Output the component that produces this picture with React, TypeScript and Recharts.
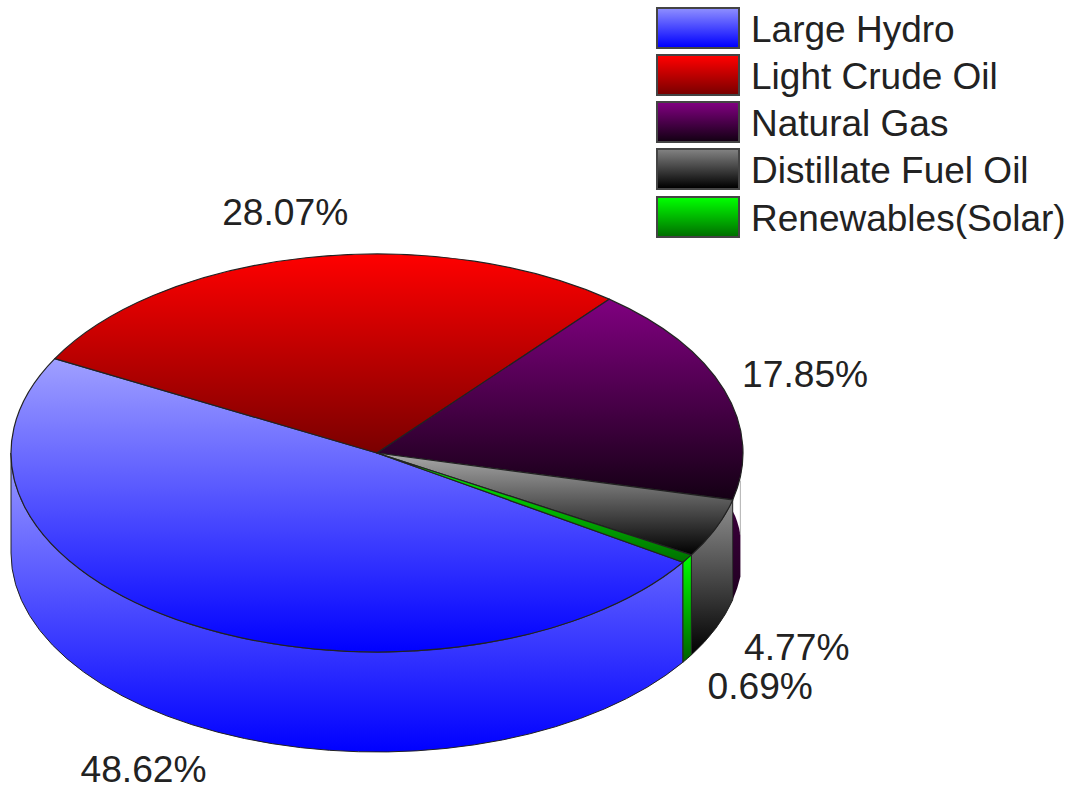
import { Cell, Legend, Pie, PieChart } from "recharts";

const sources = ["Large Hydro", "Light Crude Oil", "Natural Gas", "Distillate Fuel Oil", "Renewables(Solar)"];
const shares = [48.62, 28.07, 17.85, 4.77, 0.69];

// top and bottom stop of each slice's face
const faceStops = [
  ["#a0a0ff", "#0000ff"],
  ["#ff0000", "#7a0000"],
  ["#800080", "#140014"],
  ["#aaaaaa", "#000000"],
  ["#00ff00", "#007000"],
];
const wallStops = [
  ["#9a9aff", "#0000ff"],
  ["#ff0000", "#7a0000"],
  ["#3a003a", "#200020"],
  ["#909090", "#000000"],
  ["#00ff00", "#006000"],
];
const swatchStops = [
  ["#8c8cff", "#0000ff"],
  ["#ff0000", "#7a0000"],
  ["#800080", "#140014"],
  ["#808080", "#000000"],
  ["#00ff00", "#007000"],
];
// label position relative to the rim point at the middle of each slice
const labelOffsets = [
  [-46, 145],
  [-21, -46],
  [81, -16],
  [81, 119],
  [73, 127],
];

const data = sources.map((name, i) => ({ name, value: shares[i] }));

const CX = 377;
const CY = 453;
const RX = 366;
const TILT = 199 / 366;
const DEPTH = 100;
const FIRST_ANGLE = -33.29;
const GAS_INDEX = 2;
const FONT = "'Liberation Sans', Arial, sans-serif";
const INK = "#222222";

function rim(angle: number, drop = 0) {
  const a = (angle * Math.PI) / 180;
  return { x: CX + RX * Math.cos(a), y: CY - RX * TILT * Math.sin(a) + drop };
}

const ry = RX * TILT;

// top face: an elliptical wedge built from the angles the Pie hands over
function FaceShape(props: any) {
  const { startAngle, endAngle, fill } = props;
  const a = rim(startAngle);
  const b = rim(endAngle);
  const large = Math.abs(endAngle - startAngle) > 180 ? 1 : 0;
  const d = `M${CX},${CY} L${a.x},${a.y} A${RX},${ry} 0 ${large} 1 ${b.x},${b.y} Z`;
  return <path d={d} fill={fill} stroke={INK} strokeWidth={1.2} strokeLinejoin="round" />;
}

// side wall: only the part of the rim facing the viewer is drawn
function WallShape(props: any) {
  const { startAngle, endAngle, fill, name } = props;
  // the pie runs clockwise past -180, bring each slice back into range
  const shift = startAngle < -180 ? 360 : 0;
  const from = Math.min(startAngle + shift, 0);
  const to = Math.max(endAngle + shift, -180);
  if (from <= to) return <g />;

  if (name === sources[GAS_INDEX]) {
    // the gas wall is cut short and pulled away from its face
    const near = rim(to, 11);
    const farAngle = -6.8;
    const farTop = rim(farAngle, 4);
    const farCut = rim(farAngle, 58);
    const farBase = rim(farAngle, DEPTH);
    const base = rim(to, DEPTH);
    const d = `M${near.x},${near.y} Q${near.x + 5},${near.y + 9} ${farCut.x},${farCut.y} L${farBase.x},${farBase.y} A${RX},${ry} 0 0 1 ${base.x},${base.y} Z`;
    return (
      <g>
        <path d={d} fill={fill} />
        <line x1={farTop.x} y1={farTop.y} x2={farCut.x} y2={farCut.y} stroke="#bbbbbb" strokeWidth={1.2} />
      </g>
    );
  }

  const a = rim(from);
  const b = rim(to);
  const a2 = rim(from, DEPTH);
  const b2 = rim(to, DEPTH);
  const d = `M${a.x},${a.y} A${RX},${ry} 0 0 1 ${b.x},${b.y} L${b2.x},${b2.y} A${RX},${ry} 0 0 0 ${a2.x},${a2.y} Z`;
  return <path d={d} fill={fill} stroke={INK} strokeWidth={1} strokeLinejoin="round" />;
}

function renderLabel(props: any) {
  const { midAngle, index, value } = props;
  const p = rim(midAngle);
  const [dx, dy] = labelOffsets[index];
  return (
    <text x={p.x + dx} y={p.y + dy} textAnchor="middle" dominantBaseline="central" fontFamily={FONT} fontSize={37.2} fill={INK}>
      {`${value.toFixed(2)}%`}
    </text>
  );
}

function renderLegend() {
  return (
    <div style={{ fontFamily: FONT, fontSize: 37, color: INK }}>
      {sources.map((name, i) => (
        <div key={name} style={{ display: "flex", alignItems: "center", height: 47.25 }}>
          <div
            style={{
              width: 80,
              height: 38,
              border: "2px solid #444444",
              background: `linear-gradient(${swatchStops[i][0]}, ${swatchStops[i][1]})`,
              marginRight: 11,
            }}
          />
          <span style={{ whiteSpace: "nowrap", position: "relative", top: 2 }}>{name}</span>
        </div>
      ))}
    </div>
  );
}

function Gradient({ id, stops }: { id: string; stops: string[] }) {
  return (
    <linearGradient id={id} x1="0" y1="0" x2="0" y2="1">
      <stop offset="0%" stopColor={stops[0]} />
      <stop offset="100%" stopColor={stops[1]} />
    </linearGradient>
  );
}

export default function App() {
  return (
    <div style={{ position: "absolute", left: 0, top: 0, width: 1078, height: 785, background: "#ffffff" }}>
      <PieChart width={1078} height={785} margin={{ top: 0, right: 0, bottom: 0, left: 0 }}>
        <defs>
          {faceStops.map((stops, i) => (
            <Gradient key={i} id={`face${i}`} stops={stops} />
          ))}
          {wallStops.map((stops, i) => (
            <Gradient key={i} id={`wall${i}`} stops={stops} />
          ))}
        </defs>
        <Legend
          content={renderLegend}
          wrapperStyle={{ position: "absolute", left: 656, top: 4, width: 420, bottom: "auto", right: "auto" }}
        />
        <Pie
          data={data}
          dataKey="value"
          nameKey="name"
          cx={CX}
          cy={CY}
          outerRadius={RX}
          startAngle={FIRST_ANGLE}
          endAngle={FIRST_ANGLE - 360}
          legendType="none"
          shape={WallShape}
          inactiveShape={WallShape}
          activeShape={WallShape}
          isAnimationActive={false}
        >
          {data.map((d, i) => (
            <Cell key={d.name} fill={`url(#wall${i})`} />
          ))}
        </Pie>
        <Pie
          data={data}
          dataKey="value"
          nameKey="name"
          cx={CX}
          cy={CY}
          outerRadius={RX}
          startAngle={FIRST_ANGLE}
          endAngle={FIRST_ANGLE - 360}
          shape={FaceShape}
          inactiveShape={FaceShape}
          activeShape={FaceShape}
          label={renderLabel}
          labelLine={false}
          isAnimationActive={false}
        >
          {data.map((d, i) => (
            <Cell key={d.name} fill={`url(#face${i})`} />
          ))}
        </Pie>
      </PieChart>
    </div>
  );
}
